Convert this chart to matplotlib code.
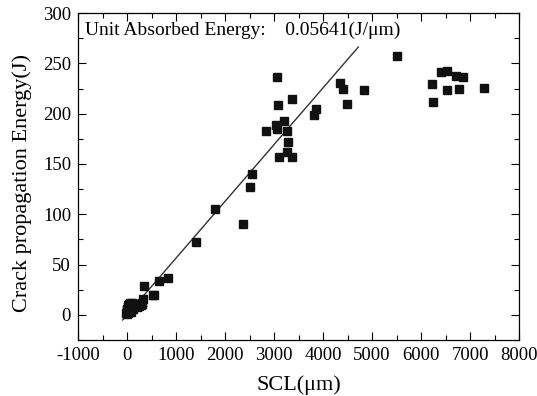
import numpy as np
import matplotlib
matplotlib.use('Agg')
import matplotlib.pyplot as plt
from matplotlib.ticker import MultipleLocator

# SCL (um) vs crack propagation energy (J)
sclCluster = [-20, -10, 0, 5, 10, 15, 20, 25, 30, 40, 45, 50, 60, 60, 70, 80, 80, 90,
              100, 110, 120, 130, 130, 150, 170, 190, 200, 220, 240, 260, 280, 300]
energyCluster = [2, 5, 1, 6, 3, 8, 5, 10, 2, 6, 11, 9, 4, 12, 11, 7, 3, 10,
                 12, 8, 11, 6, 9, 10, 9, 11, 8, 10, 9, 11, 10, 12]

scl = [306, 333, 340, 544, 524, 646, 837, 1401, 1803, 2361, 2517, 2558,
       2844, 3041, 3061, 3061, 3082, 3102, 3204, 3265, 3272, 3286, 3367, 3367,
       3823, 3857, 4347, 4415, 4497, 4843, 5504,
       6231, 6251, 6408, 6537, 6537, 6721, 6782, 6864, 7292]
energy = [11, 16, 29, 20, 20, 34, 37, 72, 105, 90, 127, 140,
          183, 189, 185, 236, 209, 157, 193, 162, 183, 172, 215, 157,
          199, 205, 230, 225, 210, 224, 257,
          229, 212, 241, 242, 224, 237, 225, 236, 226]

slope = 0.05641
fitX = np.array([-90, 4720])

plt.rcParams['font.family'] = ['Liberation Serif', 'DejaVu Serif']
plt.rcParams['axes.unicode_minus'] = False

fig = plt.figure(figsize=(5.37, 3.96), dpi=100)
ax = fig.add_axes([0.1453, 0.1414, 0.8212, 0.8256])

ax.plot(fitX, slope*fitX, color='#333333', linewidth=1.0, zorder=1)
ax.plot(sclCluster, energyCluster, marker='s', linestyle='', color='#111111', markersize=5.8, zorder=2)
ax.plot(scl, energy, marker='s', linestyle='', color='#111111', markersize=5.8, zorder=2)

ax.set_xlim(-1000, 8000)
ax.set_ylim(-25, 300)
ax.xaxis.set_major_locator(MultipleLocator(1000))
ax.xaxis.set_minor_locator(MultipleLocator(500))
ax.yaxis.set_major_locator(MultipleLocator(50))
ax.yaxis.set_minor_locator(MultipleLocator(25))
ax.tick_params(which='both', direction='in', top=True, right=True, labelsize=13.5, width=0.8)
ax.tick_params(which='major', length=6)
ax.tick_params(which='minor', length=3.5)
ax.tick_params(axis='x', pad=5)
ax.tick_params(axis='y', pad=5)
for s in ax.spines.values():
    s.set_linewidth(0.9)

ax.set_xlabel('SCL(μm)', fontsize=16, labelpad=8)
ax.set_ylabel('Crack propagation Energy(J)', fontsize=16)
ax.yaxis.set_label_coords(-0.105, 0.48)
ax.text(0.015, 0.975, 'Unit Absorbed Energy:    0.05641(J/μm)', transform=ax.transAxes,
        fontsize=14, ha='left', va='top')

fig.savefig('out.png', dpi=100)
